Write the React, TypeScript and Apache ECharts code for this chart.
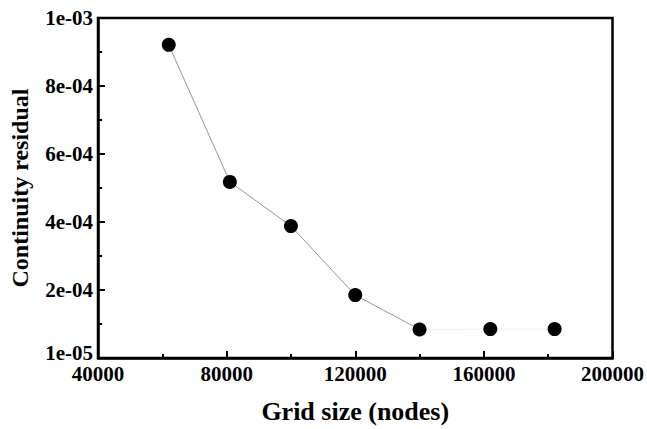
import React, { useEffect, useRef } from "react";
import * as echarts from "echarts";

const gridSizes = [62000, 81000, 100000, 120000, 140000, 162000, 182000];
const residuals = [0.000921, 0.000518, 0.000388, 0.000185, 0.000084, 0.000085, 0.000085];
const xTitle = "Grid size (nodes)";
const yTitle = "Continuity residual";

const fmtY = (v: number) => {
  if (v === 0) return "{low|1e-05}";
  const e = Math.floor(Math.log10(v) + 1e-9);
  const m = Math.round(v / Math.pow(10, e));
  const es = String(Math.abs(e)).padStart(2, "0");
  return `${m}e-${es}`;
};

export default function App() {
  const ref = useRef<HTMLDivElement>(null);
  useEffect(() => {
    if (!ref.current) return;
    const chart = echarts.init(ref.current, undefined, { renderer: "svg" });
    const pts = gridSizes.map((x, i) => [x, residuals[i]]);
    const solidPart = pts.slice(0, 5);
    const faintPart = pts.slice(4);
    const font = "Liberation Serif";
    chart.setOption({
      animation: false,
      backgroundColor: "#fff",
      grid: {
        left: 87,
        right: 32,
        top: 18,
        bottom: 61,
        show: true,
        borderColor: "#000",
        borderWidth: 2.5,
      },
      xAxis: {
        type: "value",
        min: 40000,
        max: 200000,
        interval: 40000,
        name: xTitle,
        nameLocation: "middle",
        nameGap: 40,
        nameTextStyle: { fontFamily: font, fontWeight: "bold", fontSize: 26, color: "#000" },
        axisLine: { lineStyle: { color: "#000", width: 2.5 } },
        axisTick: { inside: true, length: 7, lineStyle: { color: "#000", width: 2 } },
        minorTick: { show: true, splitNumber: 2, length: 4, lineStyle: { color: "#000", width: 2 } },
        splitLine: { show: false },
        axisLabel: {
          fontFamily: font,
          fontWeight: "bold",
          fontSize: 21,
          color: "#000",
          margin: 7,
          lineHeight: 18,
          formatter: (v: number) => String(v),
        },
      },
      yAxis: {
        type: "value",
        min: 0,
        max: 0.001,
        interval: 0.0002,
        name: yTitle,
        nameLocation: "middle",
        nameGap: 66,
        nameTextStyle: { fontFamily: font, fontWeight: "bold", fontSize: 24, color: "#000" },
        axisLine: { lineStyle: { color: "#000", width: 2.5 } },
        axisTick: { inside: true, length: 7, lineStyle: { color: "#000", width: 2 } },
        minorTick: { show: true, splitNumber: 2, length: 4, lineStyle: { color: "#000", width: 2 } },
        splitLine: { show: false },
        axisLabel: {
          fontFamily: font,
          fontWeight: "bold",
          fontSize: 21,
          color: "#000",
          margin: 5,
          lineHeight: 18,
          formatter: fmtY,
          rich: {
            low: {
              fontFamily: font,
              fontWeight: "bold",
              fontSize: 21,
              color: "#000",
              lineHeight: 18,
              padding: [0, 0, 11, 0],
            },
          },
        },
      },
      series: [
        {
          type: "line",
          data: solidPart,
          symbol: "none",
          lineStyle: { color: "#9a9494", width: 1 },
          z: 2,
        },
        {
          type: "line",
          data: faintPart,
          symbol: "none",
          lineStyle: { color: "#dcdcdc", width: 1, type: "dotted" },
          z: 2,
        },
        {
          type: "scatter",
          data: pts,
          symbol: "circle",
          symbolSize: 14,
          itemStyle: { color: "#000", opacity: 1 },
          z: 3,
        },
      ],
    });
    return () => chart.dispose();
  }, []);
  return (
    <div
      ref={ref}
      style={{ position: "absolute", left: 0, top: 0, width: 647, height: 429 }}
    />
  );
}
